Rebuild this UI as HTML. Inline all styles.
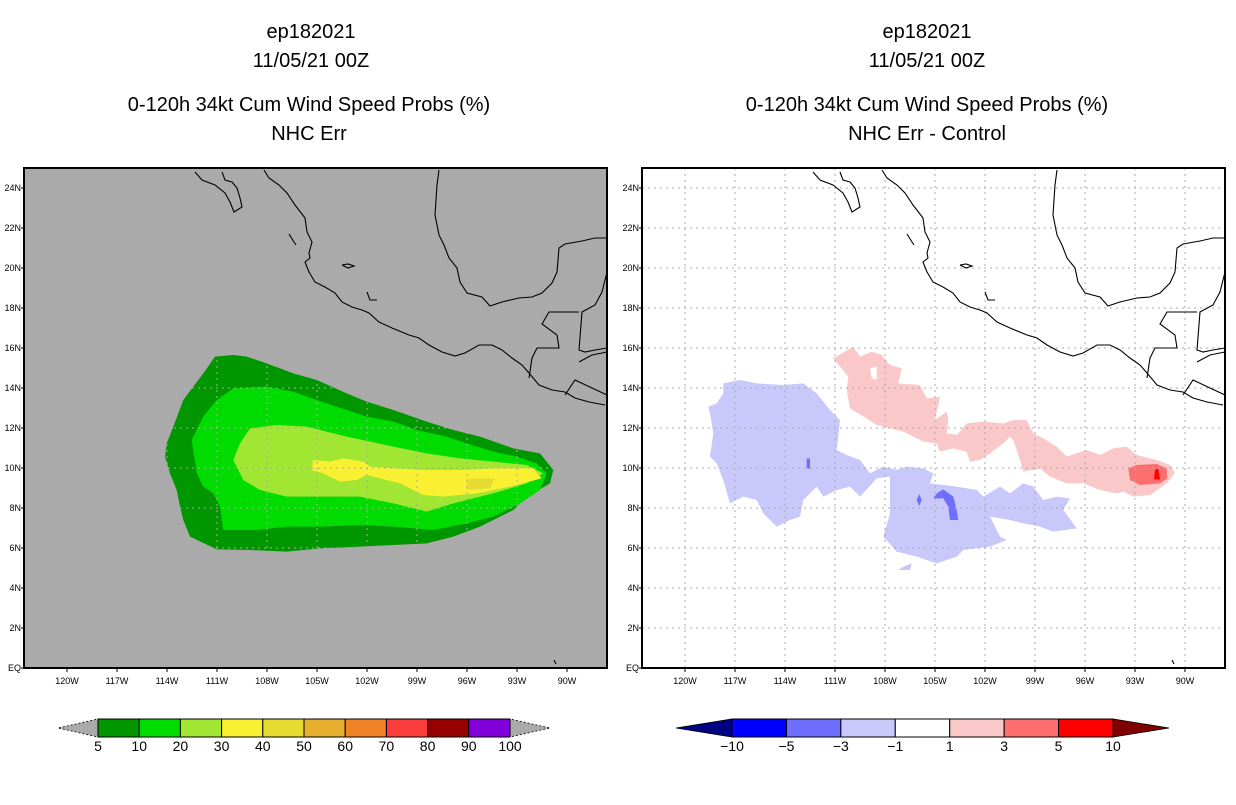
<!DOCTYPE html>
<html><head><meta charset="utf-8"><style>
body{margin:0;background:#fff;}
svg text{font-family:"Liberation Sans",sans-serif;fill:#000;}
</style></head><body>
<svg id="s" width="1236" height="800" xmlns="http://www.w3.org/2000/svg">
<defs>
<clipPath id="cl"><rect x="24" y="168" width="583" height="500"/></clipPath>
<clipPath id="cr"><rect x="642" y="168" width="583" height="500"/></clipPath>
</defs>
<g id="left"></g>
<g id="right"></g>
<g id="titles">
<text x="311" y="38" font-size="20" text-anchor="middle">ep182021</text>
<text x="311" y="67" font-size="20" text-anchor="middle">11/05/21 00Z</text>
<text x="309" y="111" font-size="20" text-anchor="middle">0-120h 34kt Cum Wind Speed Probs (%)</text>
<text x="309" y="140" font-size="20" text-anchor="middle">NHC Err</text>
<text x="927" y="38" font-size="20" text-anchor="middle">ep182021</text>
<text x="927" y="67" font-size="20" text-anchor="middle">11/05/21 00Z</text>
<text x="927" y="111" font-size="20" text-anchor="middle">0-120h 34kt Cum Wind Speed Probs (%)</text>
<text x="927" y="140" font-size="20" text-anchor="middle">NHC Err - Control</text>
</g>
</svg>
<script>
// ---- data ----
const lonTicks=[-120,-117,-114,-111,-108,-105,-102,-99,-96,-93,-90];
const latTicks=[0,2,4,6,8,10,12,14,16,18,20,22,24];
const probLevels=[5,10,20,30,40,50,60,70,80,90,100];
const probColors=["#009600","#00dc00","#a0e632","#faf032","#e6dc32","#e6af2d","#f08228","#fa3c3c","#960000","#8200dc"];
const diffLevels=[-10,-5,-3,-1,1,3,5,10];
const diffColors=["#0000ff","#6e6eff","#c8c8fa","#ffffff","#fac8c8","#ff6e6e","#ff0000"];
const prob5=[[-111.12,15.57],[-110.02,15.65],[-109.22,15.57],[-108.02,15.23],[-106.42,14.73],[-105.02,14.4],[-103.22,13.73],[-102.02,13.32],[-100.42,12.9],[-98.42,12.32],[-96.82,11.9],[-95.22,11.57],[-93.22,10.98],[-91.62,10.73],[-90.82,9.9],[-91.02,9.23],[-92.42,8.57],[-93.22,7.9],[-95.22,7.07],[-96.82,6.57],[-98.42,6.23],[-100.42,6.15],[-102.42,6.07],[-104.82,5.98],[-106.82,5.82],[-109.02,5.9],[-111.02,5.93],[-112.62,6.57],[-113.02,7.4],[-113.22,8.07],[-113.42,8.9],[-113.82,9.73],[-114.12,10.57],[-114.02,11.23],[-113.62,12.07],[-113.02,13.4],[-112.42,14.07],[-111.82,14.73]];
const prob10=[[-110.02,13.98],[-108.02,14.07],[-106.42,13.82],[-105.02,13.4],[-103.22,12.9],[-102.02,12.57],[-100.42,12.32],[-99.02,11.9],[-97.22,11.57],[-96.02,11.23],[-94.42,10.82],[-93.02,10.57],[-91.82,10.23],[-91.22,9.73],[-91.62,8.9],[-92.82,8.23],[-94.42,7.57],[-96.02,7.23],[-98.02,6.9],[-100.42,7.07],[-102.42,7.15],[-104.82,7.07],[-106.82,7.07],[-108.62,6.9],[-110.62,6.9],[-110.82,8.07],[-111.22,8.73],[-111.82,9.07],[-112.22,9.73],[-112.52,11.4],[-111.82,12.57],[-111.02,13.4]];
const prob20=[[-109.02,11.98],[-107.42,12.15],[-105.62,12.07],[-103.22,11.57],[-100.42,11.07],[-98.42,10.73],[-96.42,10.48],[-94.42,10.32],[-92.42,10.15],[-91.42,9.73],[-92.42,9.23],[-94.42,8.73],[-96.82,8.23],[-98.42,7.82],[-100.42,8.23],[-102.42,8.57],[-104.42,8.57],[-106.82,8.57],[-108.42,8.9],[-109.42,9.4],[-110.02,10.4],[-109.62,11.23]];
const prob30=[[-105.22,10.4],[-104.22,10.32],[-103.42,10.48],[-102.22,10.32],[-101.82,10.07],[-100.42,9.98],[-98.42,9.9],[-96.42,9.9],[-94.42,9.98],[-92.02,9.98],[-91.52,9.48],[-93.42,9.07],[-95.42,8.73],[-97.42,8.57],[-98.62,8.65],[-100.02,9.23],[-102.02,9.65],[-102.62,9.4],[-103.62,9.32],[-104.62,9.73],[-105.32,9.9]];
const prob40=[[-96.02,9.48],[-94.32,9.48],[-94.62,8.98],[-96.02,8.9]];
const diffNeg1=[[-117.7,14.23],[-116.7,14.4],[-115.7,14.23],[-114.1,14.15],[-112.9,14.23],[-112.1,13.73],[-111.3,12.9],[-110.7,12.4],[-110.9,10.9],[-110.3,10.65],[-109.5,10.4],[-108.9,9.73],[-108.1,10.07],[-107.3,9.9],[-106.7,10.07],[-105.7,9.98],[-105.1,9.73],[-105.3,9.23],[-103.7,9.07],[-102.5,8.9],[-102.1,8.57],[-101.1,9.07],[-100.5,8.73],[-99.7,9.23],[-99.1,9.07],[-98.5,8.4],[-97.7,8.57],[-96.9,8.48],[-97.3,7.9],[-96.5,6.98],[-97.9,6.82],[-98.7,7.07],[-99.7,7.23],[-100.5,7.4],[-101.7,7.57],[-101.1,6.57],[-100.7,6.4],[-101.7,6.07],[-103.3,5.9],[-103.7,5.57],[-104.9,5.23],[-106.1,5.57],[-107.3,5.82],[-108.1,6.57],[-107.7,7.73],[-107.7,9.57],[-108.5,9.48],[-109.5,8.57],[-110.1,9.07],[-110.9,8.9],[-111.7,8.57],[-112.1,9.07],[-112.9,8.4],[-113.1,7.57],[-113.7,7.4],[-114.5,7.07],[-115.3,7.73],[-115.7,8.4],[-116.5,8.57],[-117.3,8.23],[-117.7,9.4],[-118.1,10.23],[-118.5,10.57],[-118.3,11.73],[-118.5,12.73],[-118.6,13.07],[-118.1,13.23],[-117.7,13.73]];
const diffNeg1b=[[-106.9,5.07],[-106.4,5.23],[-106.5,4.9],[-107.2,4.9]];
const diffNeg3=[[-104.9,8.73],[-104.5,8.93],[-103.9,8.57],[-103.7,7.9],[-103.6,7.4],[-104.1,7.4],[-104.2,8.07],[-104.5,8.48],[-105.1,8.48]];
const diffNeg3b=[[-112.7,10.48],[-112.5,10.48],[-112.5,9.98],[-112.7,9.98]];
const diffNeg3c=[[-105.95,8.7],[-105.8,8.4],[-105.95,8.1],[-106.1,8.4]];
const diffPos1=[[-111.1,15.48],[-109.9,16.07],[-109.5,15.57],[-108.8,15.82],[-108.2,15.65],[-107.7,15.15],[-107.0,14.98],[-107.2,14.23],[-105.9,14.15],[-105.5,13.48],[-104.7,13.57],[-105.0,12.4],[-104.3,12.82],[-104.2,12.4],[-104.3,11.73],[-103.7,11.65],[-103.1,12.23],[-102.1,12.32],[-100.9,12.23],[-100.3,12.4],[-99.5,12.4],[-99.1,11.73],[-98.5,11.48],[-97.7,11.07],[-97.1,10.57],[-95.9,10.9],[-95.1,10.65],[-94.3,10.98],[-93.5,11.07],[-92.9,10.65],[-91.7,10.4],[-90.9,10.15],[-90.6,9.73],[-91.1,9.23],[-92.1,8.65],[-93.1,8.57],[-93.7,8.82],[-94.1,8.73],[-95.1,8.9],[-96.1,9.23],[-97.1,9.23],[-98.1,9.57],[-98.7,9.98],[-99.7,9.82],[-99.9,10.4],[-100.3,11.4],[-100.5,11.57],[-100.9,11.23],[-101.7,10.73],[-102.3,10.4],[-102.9,10.32],[-103.1,10.82],[-103.9,10.98],[-104.7,10.82],[-104.9,11.23],[-105.7,11.32],[-106.9,11.82],[-108.5,12.15],[-109.1,12.48],[-110.1,12.98],[-110.3,13.9],[-110.2,14.57]];
const diffPos1Hole=[[-108.9,14.98],[-108.5,15.07],[-108.5,14.4],[-108.8,14.48]];
const diffPos3=[[-93.4,9.98],[-92.9,10.15],[-91.7,10.2],[-91.1,9.98],[-91.06,9.48],[-91.5,9.23],[-92.7,9.15],[-93.3,9.4]];
const diffPos5=[[-91.8,9.9],[-91.6,9.98],[-91.5,9.43],[-91.86,9.43]];
// basemap traces (right-panel pixel positions, converted to lon/lat)
const coastPx=[
[[813,172],[820,180],[833,185],[843,193],[848,202],[852,212],[860,207],[858,198],[855,188],[850,182],[843,180],[840,172]],
[[882,170],[887,178],[897,185],[905,193],[913,205],[923,218],[925,232],[930,242],[927,253],[928,258],[923,262],[927,272],[933,282],[943,287],[953,293],[960,302],[970,307],[980,310],[987,313],[997,322],[1010,328],[1027,335],[1037,338],[1047,345],[1060,352],[1073,356],[1083,353],[1097,345],[1110,345],[1120,350],[1130,358],[1140,365],[1147,373],[1157,385],[1170,390],[1183,392],[1193,398],[1207,402],[1223,405]],
[[1057,170],[1055,185],[1053,215],[1057,235],[1062,245],[1067,258],[1075,268],[1078,282],[1085,293],[1100,297],[1108,306],[1120,302],[1137,298],[1150,297],[1160,293],[1170,283],[1175,272],[1177,248],[1183,244],[1200,241],[1213,238],[1225,238]],
[[1225,272],[1220,292],[1213,305],[1200,312],[1197,350],[1203,352],[1213,350],[1225,348]],
[[1147,378],[1150,358],[1155,348],[1177,348],[1175,335],[1160,324],[1167,312],[1197,312]],
[[1183,395],[1193,380],[1210,388],[1225,395]],
[[1197,362],[1210,355],[1225,352]],
[[907,234],[912,242],[914,245]],
[[960,265],[966,264],[972,266],[966,268],[960,265]],
[[985,292],[988,300],[995,300]],
[[1172,660],[1174,664]]
];
const NS="http://www.w3.org/2000/svg";
const svg=document.getElementById('s');
function mk(tag,attrs,parent){const e=document.createElementNS(NS,tag);for(const k in attrs)e.setAttribute(k,attrs[k]);parent.appendChild(e);return e;}
function panel(g,x0,clip,bg){
  const X=lon=>x0+(lon+120)*500/30;
  const Y=lat=>668-lat*20;
  const left=x0-43;
  const r=mk('rect',{x:left,y:168,width:583,height:500,fill:bg},g);
  
  
  const cg=mk('g',{'clip-path':'url(#'+clip+')'},g);
  
  
  return {X,Y,cg,left};
}
function poly(p,pts,fill,name){
  const d=pts.map(q=>p.X(q[0]).toFixed(1)+','+p.Y(q[1]).toFixed(1)).join(' ');
  const e=mk('polygon',{points:d,fill:fill},p.cg);
  
  
}
function decorate(p){
  lonTicks.forEach(l=>{const e=mk('line',{x1:p.X(l),x2:p.X(l),y1:168,y2:668,stroke:'#aaaaaa','stroke-dasharray':'2,4'},p.cg);
    
    });
  latTicks.forEach(l=>{const e=mk('line',{x1:p.left,x2:p.left+583,y1:p.Y(l),y2:p.Y(l),stroke:'#aaaaaa','stroke-dasharray':'2,4'},p.cg);
    
    });
  coastPx.forEach(line=>{
    const pts=line.map(q=>{const lon=-120+(q[0]-685)*30/500,lat=(668-q[1])/20;return p.X(lon).toFixed(1)+','+p.Y(lat).toFixed(1);}).join(' ');
    const e=mk('polyline',{points:pts,fill:'none',stroke:'#000','stroke-width':1.1},p.cg);
    
    
  });
  const fr=mk('rect',{x:p.left,y:168,width:583,height:500,fill:'none',stroke:'#000','stroke-width':2},p.cg.parentNode);
  
  
  lonTicks.forEach(l=>{const t=mk('text',{x:p.X(l),y:684,'font-size':9,'text-anchor':'middle'},p.cg.parentNode);t.textContent=Math.abs(l)+'W';
    
    
    mk('line',{x1:p.X(l),x2:p.X(l),y1:668,y2:672,stroke:'#000'},p.cg.parentNode);});
  latTicks.forEach(l=>{const t=mk('text',{x:p.left-3,y:p.Y(l)+3,'font-size':9,'text-anchor':'end'},p.cg.parentNode);t.textContent=l===0?'EQ':l+'N';
    
    
    mk('line',{x1:p.left-3,x2:p.left,y1:p.Y(l),y2:p.Y(l),stroke:'#000'},p.cg.parentNode);});
}
function colorbar(parent,x0,x1,y,levels,colors,lowC,hiC,tri,name){
  const g=mk('g',{},parent);
  
  
  const n=colors.length,w=(x1-x0)/n,h=18;
  mk('polygon',{points:`${x0},${y} ${x0},${y+h} ${x0-tri},${y+h/2}`,fill:lowC,stroke:'#000','stroke-dasharray':lowC==='#aaaaaa'?'2,2':'none','stroke-width':0.8},g);
  mk('polygon',{points:`${x1},${y} ${x1},${y+h} ${x1+tri},${y+h/2}`,fill:hiC,stroke:'#000','stroke-dasharray':hiC==='#aaaaaa'?'2,2':'none','stroke-width':0.8},g);
  colors.forEach((c,i)=>{const r=mk('rect',{x:x0+i*w,y:y,width:w,height:h,fill:c,stroke:'#000','stroke-width':1},g);
    
    });
  levels.forEach((v,i)=>{const t=mk('text',{x:x0+i*w,y:y+h+14,'font-size':14,'text-anchor':'middle'},g);t.textContent=v<0?'\u2212'+Math.abs(v):v;
    
    });
}
const L=panel(document.getElementById('left'),67,'cl','#aaaaaa');
poly(L,prob5,probColors[0],'prob-5-10');
poly(L,prob10,probColors[1],'prob-10-20');
poly(L,prob20,probColors[2],'prob-20-30');
poly(L,prob30,probColors[3],'prob-30-40');
poly(L,prob40,probColors[4],'prob-40-50');
decorate(L);
const R=panel(document.getElementById('right'),685,'cr','#ffffff');
poly(R,diffNeg1,diffColors[2],'diff-neg-1-3');
poly(R,diffNeg1b,diffColors[2],'diff-neg-1-3-blob');
poly(R,diffNeg3,diffColors[1],'diff-neg-3-5');
poly(R,diffNeg3b,diffColors[1],'diff-neg-3-5-bar');
poly(R,diffNeg3c,diffColors[1],'diff-neg-3-5-dot');
poly(R,diffPos1,diffColors[4],'diff-pos-1-3');
poly(R,diffPos1Hole,'#ffffff','diff-hole');
poly(R,diffPos3,diffColors[5],'diff-pos-3-5');
poly(R,diffPos5,diffColors[6],'diff-pos-5-10');
decorate(R);
colorbar(svg,98,510,719,probLevels,probColors,'#aaaaaa','#aaaaaa',40,'left-colorbar');
colorbar(svg,732,1113,719,diffLevels,diffColors,'#000080','#800000',56,'right-colorbar');
</script>
</body></html>
